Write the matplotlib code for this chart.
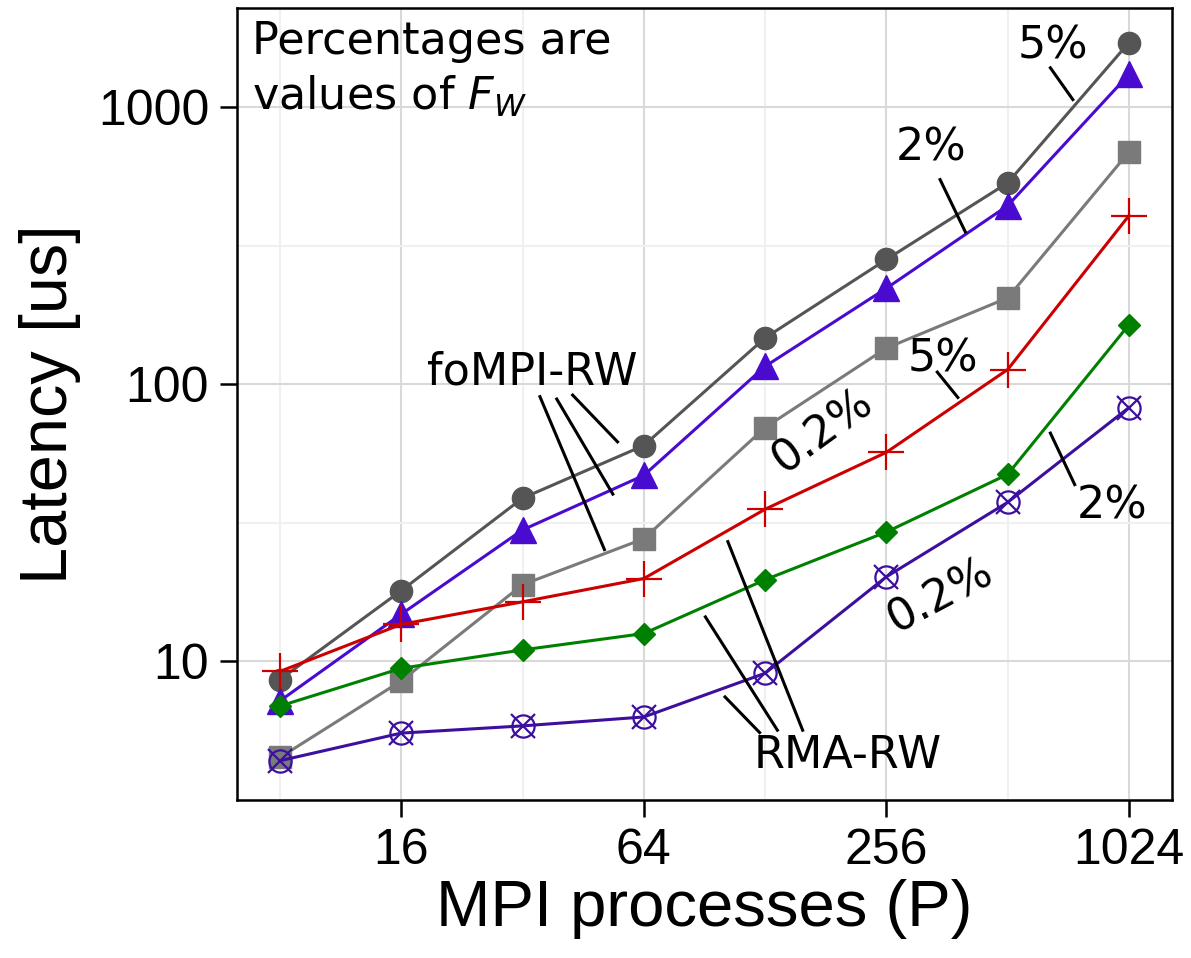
import numpy as np
import matplotlib.pyplot as plt

# MPI process counts
procs = [8, 16, 32, 64, 128, 256, 512, 1024]

# foMPI-RW latencies [us] for F_W = 5%, 2%, 0.2%
fompi_5 = [8.6, 18.0, 38.8, 60.1, 147, 282, 533, 1710]
fompi_2 = [7.2, 14.8, 29.8, 46.9, 116, 222, 441, 1313]
fompi_02 = [4.5, 8.5, 18.9, 27.7, 69.8, 135, 205, 689]

# RMA-RW latencies [us] for F_W = 5%, 2%, 0.2%
rma_5 = [9.2, 13.6, 16.4, 19.9, 35.4, 56.8, 113, 406]
rma_2 = [6.9, 9.44, 11.0, 12.6, 19.7, 29.3, 47.3, 164]
rma_02 = [4.38, 5.51, 5.85, 6.3, 9.06, 20.2, 37.5, 82.4]

xticks = [16, 64, 256, 1024]
xtick_labels = ['16', '64', '256', '1024']
yticks = [10, 100, 1000]
ytick_labels = ['10', '100', '1000']

fig = plt.figure(figsize=(11.91, 9.58), dpi=100)
ax = fig.add_axes([0.199, 0.165, 0.785, 0.827])
ax.set_xscale('log', base=2)
ax.set_yscale('log')

lw = 2.2
ax.plot(procs, fompi_5, color='#555555', lw=lw, marker='o', ms=16, zorder=3)
ax.plot(procs, fompi_2, color='#4a0bd0', lw=lw, marker='^', ms=19, zorder=3)
ax.plot(procs, fompi_02, color='#7a7a7a', lw=lw, marker='s', ms=16, zorder=3)
ax.plot(procs, rma_5, color='#cc0000', lw=lw, marker='+', ms=26, mew=1.6, zorder=3)
ax.plot(procs, rma_2, color='#008000', lw=lw, marker='D', ms=11, zorder=3)
ax.plot(procs, rma_02, color='#3d0f9e', lw=lw, marker='o', ms=16,
        mfc='none', mew=1.6, zorder=3)
ax.plot(procs, rma_02, color='#3d0f9e', lw=0, marker='x', ms=17, mew=1.6, zorder=3)

ax.set_xlim(6.26, 1309)
ax.set_ylim(3.27, 2285)

ax.set_xticks(xticks)
ax.set_xticklabels(xtick_labels)
ax.set_yticks(yticks)
ax.set_yticklabels(ytick_labels)
ax.set_xticks([8, 32, 128, 512], minor=True)
ax.set_yticks([10**0.5, 10**1.5, 10**2.5], minor=True)
ax.tick_params(which='minor', length=0, labelleft=False, labelbottom=False)
ax.tick_params(which='major', length=12, width=1.8, color='black', pad=8)
for lab in ax.get_xticklabels() + ax.get_yticklabels():
    lab.set_fontfamily('Liberation Sans')
    lab.set_fontsize(36)

ax.grid(True, which='major', color='#d9d9d9', lw=1.5, zorder=0)
ax.grid(True, which='minor', color='#f0f0f0', lw=1.5, zorder=0)
ax.set_axisbelow(True)
for sp in ax.spines.values():
    sp.set_linewidth(1.8)

ax.set_xlabel('MPI processes (P)', fontsize=47, family='Liberation Sans', labelpad=4)
ax.set_ylabel('Latency [us]', fontsize=48, family='Liberation Sans', labelpad=12)

tf = ax.transAxes
fs = 32
ax.text(0.016, 0.985, 'Percentages are\nvalues of $F_W$', transform=tf,
        fontsize=fs, ha='left', va='top', linespacing=1.3)

# percentage labels with leader lines
labels = [
    ('5%', 0.873, 0.952, 0, [((0.870, 0.924), (0.894, 0.884))]),
    ('2%', 0.742, 0.823, 0, [((0.752, 0.783), (0.779, 0.717))]),
    ('5%', 0.755, 0.556, 0, [((0.749, 0.540), (0.771, 0.508))]),
    ('0.2%', 0.626, 0.465, 36, []),
    ('2%', 0.936, 0.371, 0, [((0.870, 0.463), (0.896, 0.398))]),
    ('0.2%', 0.752, 0.258, 28, []),
    ('foMPI-RW', 0.316, 0.540, 0, [((0.359, 0.511), (0.407, 0.452)),
                                   ((0.342, 0.506), (0.402, 0.386)),
                                   ((0.324, 0.509), (0.393, 0.316))]),
    ('RMA-RW', 0.653, 0.056, 0, [((0.522, 0.130), (0.559, 0.085)),
                                 ((0.501, 0.231), (0.578, 0.088)),
                                 ((0.525, 0.326), (0.605, 0.088))]),
]
for txt, tx, ty, rot, segs in labels:
    ax.text(tx, ty, txt, transform=tf, fontsize=fs, ha='center', va='center',
            rotation=rot, rotation_mode='anchor', zorder=5)
    for (x1, y1), (x2, y2) in segs:
        ax.plot([x1, x2], [y1, y2], transform=tf, color='black', lw=2.2, zorder=4)

fig.savefig('out.png', dpi=100)
